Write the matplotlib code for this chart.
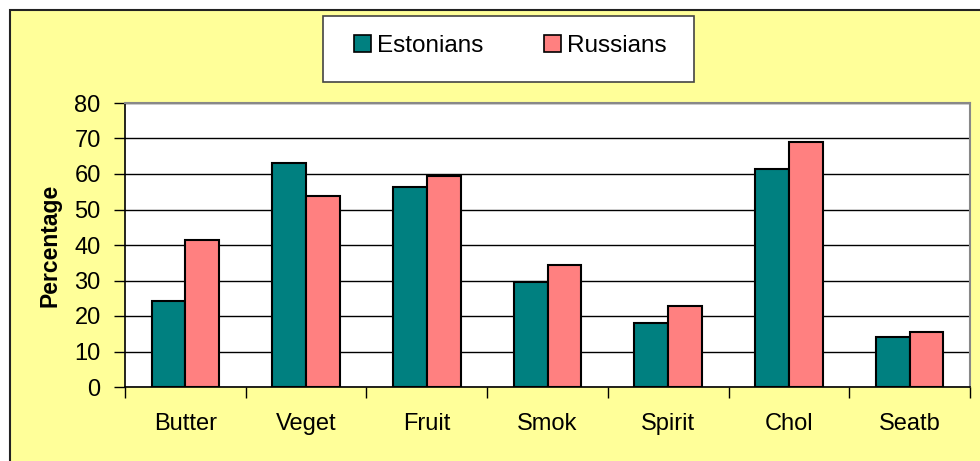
import matplotlib
matplotlib.use("Agg")
import matplotlib.pyplot as plt
from matplotlib.patches import Rectangle, Patch
import numpy as np

plt.rcParams['font.family'] = ['Liberation Sans', 'DejaVu Sans']

# data
categories = ["Butter", "Veget", "Fruit", "Smok", "Spirit", "Chol", "Seatb"]
estonians = [24.2, 63.0, 56.4, 29.6, 18.1, 61.4, 14.2]
russians = [41.5, 53.7, 59.5, 34.5, 22.9, 68.9, 15.4]
series_names = ["Estonians", "Russians"]
yticks = [0, 10, 20, 30, 40, 50, 60, 70, 80]

teal = "#008080"
salmon = "#FF8080"
yellow = "#FFFF99"

W, H = 980, 461
dpi = 100
fig = plt.figure(figsize=(W / dpi, H / dpi), dpi=dpi)
fig.patch.set_facecolor("white")

# outer yellow chart area with a black frame (cut off at right/bottom)
fig.patches.append(Rectangle((10 / W, -0.1), 1.2, 1 - 10 / H + 0.1,
                             transform=fig.transFigure, facecolor=yellow,
                             edgecolor="#222222", linewidth=1.5, zorder=-10))

# plot area
ax = fig.add_axes([125 / W, 1 - 387 / H, (970 - 125) / W, (387 - 103) / H])
ax.set_zorder(1)
ax.set_facecolor("white")

x = np.arange(len(categories))
w = 0.28
ax.bar(x - w / 2, estonians, w, color=teal, edgecolor="black", linewidth=1.5, zorder=3)
ax.bar(x + w / 2, russians, w, color=salmon, edgecolor="black", linewidth=1.5, zorder=3)

ax.set_xlim(-0.5, len(categories) - 0.5)
ax.set_ylim(0, 80)
ax.set_yticks(yticks)
ax.yaxis.grid(True, color="black", linewidth=1, zorder=0)
ax.set_axisbelow(True)

# ticks between categories, labels under centres
ax.set_xticks(np.arange(len(categories) + 1) - 0.5)
ax.set_xticklabels([])
ax.set_xticks(x, minor=True)
ax.set_xticklabels(categories, minor=True, fontsize=17)
ax.tick_params(axis="x", which="minor", length=0, pad=19)
ax.tick_params(axis="x", which="major", length=8, width=1, direction="out")
ax.tick_params(axis="y", length=8, width=1, direction="out", labelsize=17, pad=9.5)

for s in ["left", "bottom"]:
    ax.spines[s].set_color("black")
    ax.spines[s].set_linewidth(1.2)
for s in ["top", "right"]:
    ax.spines[s].set_color("#888888")
    ax.spines[s].set_linewidth(1.5)

ax.set_ylabel("Percentage", fontsize=16.5, fontweight="bold", labelpad=9)

# legend box
fig.patches.append(Rectangle((323 / W, 1 - 82 / H), (694 - 323) / W, (82 - 16) / H,
                             transform=fig.transFigure, facecolor="white",
                             edgecolor="#444444", linewidth=1.2, zorder=2))
handles = [Patch(facecolor=teal, edgecolor="black", linewidth=1.2),
           Patch(facecolor=salmon, edgecolor="black", linewidth=1.2)]
leg = fig.legend(handles, series_names, loc="center",
                 bbox_to_anchor=((323 + 694) / 2 / W + 2 / W, 1 - 46 / H),
                 ncol=2, frameon=False, fontsize=17.5, handlelength=0.7,
                 handleheight=0.7, handletextpad=0.25, columnspacing=2.5)
leg.set_zorder(5)

fig.savefig("out.png", dpi=dpi)
